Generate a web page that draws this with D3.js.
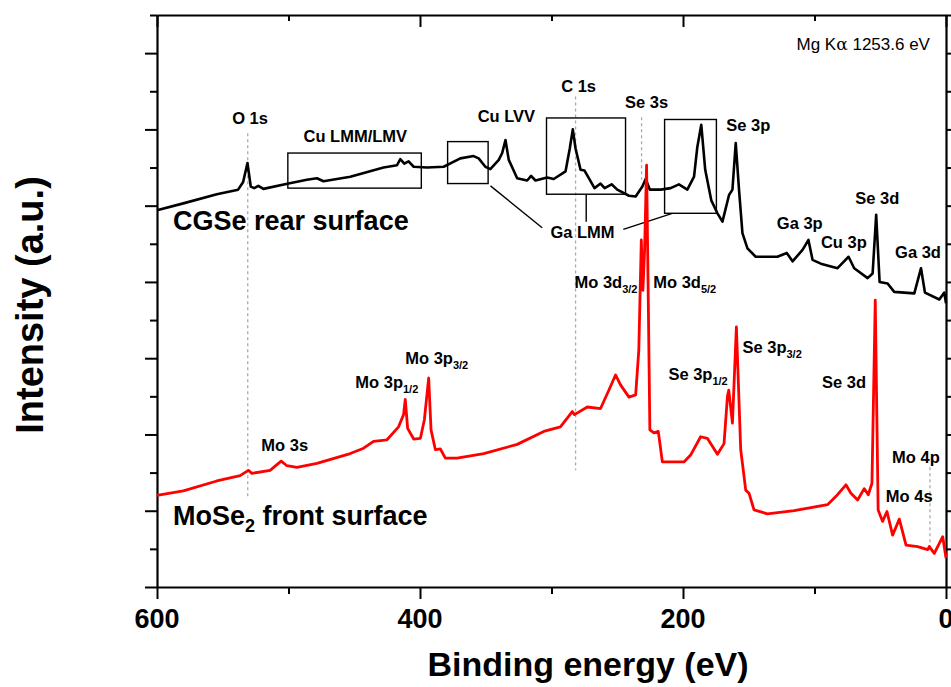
<!DOCTYPE html>
<meta charset="utf-8">
<script src="https://cdn.jsdelivr.net/npm/d3@7"></script>
<style>
body { margin: 0; background: #fff; }
text { font-family: "Liberation Sans", Arial, sans-serif; }
</style>
<svg id="chart" width="951" height="687"></svg>
<script>
// binding energy (eV) and intensity (a.u.)
var cgseBE = [600,580.0,554.5,538.3,534.5,531.2,528.7,526.1,522.9,519.1,500.0,486.0,478.4,473.4,453.0,427.7,417.5,415.0,411.9,408.7,404.8,394.6,382.0,369.3,359.2,355.4,350.3,346.5,340.1,337.5,335.0,332.5,326.1,318.5,315.5,312.2,303.3,298.3,289.3,286.1,283.8,281.7,277.9,274.9,271.6,267.3,262.7,259.6,254.3,250.0,241.1,236.0,230.9,228.4,225.2,217.0,209.4,203.1,196.7,191.6,189.1,186.1,183.1,178.5,173.8,170.0,165.0,162.4,159.9,157.4,154.8,151.0,144.7,128.2,121.1,116.7,109.1,104.6,101.5,95.2,82.5,77.5,74.1,69.8,59.6,55.8,53.1,50.5,44.4,39.4,24.1,19.0,16.0,5.1,1.3,0];
var cgseI  = [4.94,5.03,5.15,5.21,5.31,5.56,5.25,5.23,5.26,5.22,5.29,5.34,5.36,5.32,5.38,5.50,5.53,5.61,5.55,5.58,5.51,5.50,5.51,5.62,5.65,5.62,5.51,5.48,5.60,5.69,5.86,5.60,5.36,5.33,5.39,5.33,5.37,5.35,5.45,5.75,6.00,5.75,5.47,5.46,5.36,5.23,5.29,5.23,5.28,5.21,5.13,5.12,5.25,5.35,5.21,5.21,5.23,5.28,5.21,5.38,5.77,6.06,5.47,5.07,4.90,4.79,5.14,5.21,5.82,5.21,4.64,4.44,4.33,4.33,4.38,4.27,4.42,4.55,4.29,4.24,4.18,4.27,4.33,4.18,4.05,4.11,4.88,4.00,3.98,3.87,3.85,4.18,3.86,3.77,3.86,3.72];

var moseBE = [600,580.0,554.5,536.8,530.5,527.9,514.0,505.6,501.2,493.6,478.4,453.0,442.9,435.3,425.1,416.3,412.5,411.2,409.4,404.8,399.7,396.7,393.4,391.6,388.3,384.5,380.7,371.8,351.5,326.1,305.9,293.2,284.2,282.5,272.8,262.7,256.4,251.3,247.5,241.1,236.0,233.6,231.7,230.5,229.2,227.7,226.4,225.2,222.1,218.8,215.7,199.3,194.2,186.6,181.5,173.8,168.8,166.2,165.2,162.4,159.4,156.1,152.3,149.8,146.0,135.8,115.5,90.1,82.5,76.1,72.3,67.2,62.2,59.1,56.3,53.8,51.6,48.2,44.9,40.6,35.5,30.4,21.6,13.9,12.7,8.9,2.5,0];
var moseI  = [1.20,1.26,1.39,1.46,1.53,1.49,1.53,1.65,1.59,1.57,1.62,1.75,1.82,1.91,1.93,2.10,2.26,2.46,2.08,1.94,1.95,2.19,2.74,2.06,1.80,1.81,1.69,1.69,1.75,1.87,2.04,2.10,2.30,2.26,2.36,2.34,2.58,2.78,2.65,2.49,2.52,3.11,4.55,3.89,4.42,5.53,3.76,2.06,2.02,2.04,1.64,1.64,1.73,1.97,1.95,1.74,1.88,2.50,2.58,2.15,3.41,1.80,1.27,1.23,1.01,0.96,1.00,1.08,1.21,1.34,1.23,1.14,1.29,1.21,1.36,3.76,1.01,0.86,0.99,0.68,0.89,0.55,0.53,0.49,0.53,0.44,0.66,0.38];

var xTicks = [600, 400, 200, 0];

// peak labels: [text, subscript, BE, intensity, anchor]
var peakLabels = [
  ["O 1s", "", 529.2, 6.07, "middle"],
  ["Cu LMM/LMV", "", 449.2, 5.83, "middle"],
  ["Cu LVV", "", 334.3, 6.10, "middle"],
  ["C 1s", "", 279.4, 6.49, "middle"],
  ["Se 3s", "", 227.7, 6.28, "middle"],
  ["Se 3p", "", 150.4, 5.98, "middle"],
  ["Ga 3p", "", 111.2, 4.69, "middle"],
  ["Cu 3p", "", 77.7, 4.44, "middle"],
  ["Se 3d", "", 52.2, 5.02, "middle"],
  ["Ga 3d", "", 21.3, 4.32, "middle"],
  ["Ga LMM", "", 276.4, 4.58, "middle"],
  ["Mo 3s", "", 502.9, 1.78, "middle"],
  ["Mo 3p", "1/2", 449.2, 2.61, "start"],
  ["Mo 3p", "3/2", 411.2, 2.92, "start"],
  ["Mo 3d", "3/2", 282.5, 3.92, "start"],
  ["Mo 3d", "5/2", 222.6, 3.92, "start"],
  ["Se 3p", "1/2", 211.1, 2.72, "start"],
  ["Se 3p", "3/2", 154.8, 3.07, "start"],
  ["Se 3d", "", 77.5, 2.61, "middle"],
  ["Mo 4p", "", 22.9, 1.63, "middle"],
  ["Mo 4s", "", 28.0, 1.12, "middle"]
];

// dotted guide lines: [BE, from, to]
var guides = [[531.0, 5.95, 1.18], [281.7, 6.43, 1.53], [231.5, 6.16, 5.34], [12.2, 1.57, 0.52]];

// boxes around Auger regions: [BE left, BE right, top, bottom]
var boxes = [[500.5, 399.0, 5.69, 5.23], [379.0, 348.2, 5.84, 5.29], [303.8, 243.7, 6.15, 5.15], [214.0, 174.6, 6.13, 4.90]];
var leaders = [[346.4, 5.26, 307.1, 4.71], [273.6, 5.15, 273.6, 4.79], [208.1, 4.90, 245.4, 4.69]];

var svg = d3.select("#chart");
var mLeft = 157, mRight = 946, mTop = 15, mBottom = 587;

var x = d3.scaleLinear().domain([600, 0]).range([mLeft, mRight]);
var y = d3.scaleLinear().domain([0, 7.5]).range([mBottom, mTop]);

// axes
var minorX = d3.range(600, -1, -100);
var tickY = d3.range(0, 7.51, 0.5);

svg.append("g").attr("transform", "translate(0," + mBottom + ")")
  .call(d3.axisBottom(x).tickValues(minorX).tickSizeInner(0).tickSizeOuter(0).tickFormat(""))
  .call(g => g.selectAll(".tick line").attr("y2", d => xTicks.indexOf(d) >= 0 ? 12 : 7))
  .call(g => g.select(".domain").attr("stroke-width", 2.2));

svg.append("g").attr("transform", "translate(0," + mTop + ")")
  .call(d3.axisTop(x).tickValues(minorX).tickSizeInner(0).tickSizeOuter(0).tickFormat(""))
  .call(g => g.selectAll(".tick line").attr("y2", d => xTicks.indexOf(d) >= 0 ? 12 : 6))
  .call(g => g.select(".domain").attr("stroke-width", 2.2));

svg.append("g").attr("transform", "translate(" + mLeft + ",0)")
  .call(d3.axisLeft(y).tickValues(tickY).tickSizeInner(0).tickSizeOuter(0).tickFormat(""))
  .call(g => g.selectAll(".tick line").attr("x2", d => d % 1 == 0 ? -12 : -7))
  .call(g => g.select(".domain").attr("stroke-width", 2.2));

svg.append("g").attr("transform", "translate(" + mRight + ",0)")
  .call(d3.axisRight(y).tickValues(tickY).tickSizeInner(0).tickSizeOuter(0).tickFormat(""))
  .call(g => g.selectAll(".tick line").attr("x2", d => d % 1 == 0 ? 12 : 7))
  .call(g => g.select(".domain").attr("stroke-width", 2.2));

svg.selectAll(".tick line").attr("stroke-width", 2);

svg.append("g").selectAll("text").data(xTicks).join("text")
  .attr("x", d => x(d)).attr("y", 628)
  .attr("text-anchor", "middle").attr("font-size", 27).attr("font-weight", "bold")
  .text(d => d);

svg.append("text").attr("x", 588).attr("y", 676)
  .attr("text-anchor", "middle").attr("font-size", 34).attr("font-weight", "bold")
  .text("Binding energy (eV)");

svg.append("text").attr("transform", "translate(43,305) rotate(-90)")
  .attr("text-anchor", "middle").attr("font-size", 38).attr("font-weight", "bold")
  .text("Intensity (a.u.)");

// guides, boxes
svg.append("g").selectAll("line").data(guides).join("line")
  .attr("x1", d => x(d[0])).attr("x2", d => x(d[0]))
  .attr("y1", d => y(d[1])).attr("y2", d => y(d[2]))
  .attr("stroke", "#aaa").attr("stroke-width", 1.3).attr("stroke-dasharray", "3,3");

svg.append("g").selectAll("rect").data(boxes).join("rect")
  .attr("x", d => x(d[0])).attr("y", d => y(d[2]))
  .attr("width", d => x(d[1]) - x(d[0])).attr("height", d => y(d[3]) - y(d[2]))
  .attr("fill", "none").attr("stroke", "#000").attr("stroke-width", 1.4);

svg.append("g").selectAll("line").data(leaders).join("line")
  .attr("x1", d => x(d[0])).attr("y1", d => y(d[1]))
  .attr("x2", d => x(d[2])).attr("y2", d => y(d[3]))
  .attr("stroke", "#000").attr("stroke-width", 1.4);

// spectra
var line = d3.line().x(d => x(d[0])).y(d => y(d[1]));

svg.append("path").datum(d3.zip(cgseBE, cgseI))
  .attr("d", line).attr("fill", "none").attr("stroke", "#000")
  .attr("stroke-width", 2.6).attr("stroke-linejoin", "round");

svg.append("path").datum(d3.zip(moseBE, moseI))
  .attr("d", line).attr("fill", "none").attr("stroke", "#f00")
  .attr("stroke-width", 2.8).attr("stroke-linejoin", "round");

// labels
var lab = svg.append("g").selectAll("text").data(peakLabels).join("text")
  .attr("x", d => x(d[2])).attr("y", d => y(d[3]))
  .attr("text-anchor", d => d[4])
  .attr("font-size", 16.5).attr("font-weight", "bold");
lab.append("tspan").text(d => d[0]);
lab.filter(d => d[1]).append("tspan").attr("dy", 5).attr("font-size", 11).text(d => d[1]);

svg.append("text").attr("x", x(587.8)).attr("y", y(4.68))
  .attr("font-size", 27).attr("font-weight", "bold")
  .text("CGSe rear surface");

var mo = svg.append("text").attr("x", x(587.8)).attr("y", y(0.81))
  .attr("font-size", 27).attr("font-weight", "bold");
mo.append("tspan").text("MoSe");
mo.append("tspan").attr("dy", 7).attr("font-size", 18).text("2");
mo.append("tspan").attr("dy", -7).text(" front surface");

var mg = svg.append("text").attr("x", x(12.2)).attr("y", y(7.04))
  .attr("text-anchor", "end").attr("font-size", 17);
mg.append("tspan").text("Mg K");
mg.append("tspan").attr("font-family", "DejaVu Serif").text("α");
mg.append("tspan").text(" 1253.6 eV");
</script>
